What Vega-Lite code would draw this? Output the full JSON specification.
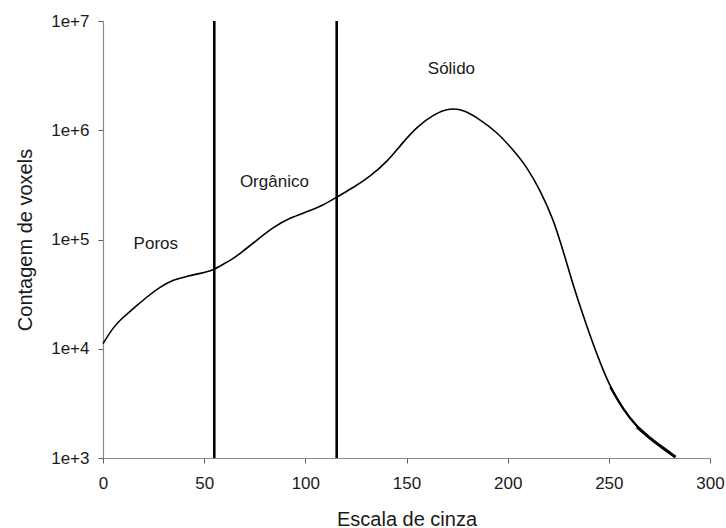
{
  "$schema": "https://vega.github.io/schema/vega-lite/v6.json",
  "width": 607,
  "height": 437,
  "autosize": {"type": "none"},
  "padding": {"left": 103, "top": 21, "right": 16, "bottom": 70},
  "background": "white",
  "config": {
    "view": {"stroke": null},
    "font": "Liberation Sans",
    "axis": {
      "grid": false,
      "domainColor": "#8c8c8c",
      "domainWidth": 1.2,
      "tickColor": "#5a5a5a",
      "tickSize": 5,
      "tickWidth": 1,
      "labelFlush": false,
      "labelBound": false,
      "labelOverlap": false,
      "labelFont": "Liberation Sans",
      "labelFontSize": 17,
      "labelColor": "#1a1a1a",
      "titleFont": "Liberation Sans",
      "titleFontSize": 20,
      "titleFontWeight": "normal",
      "titleColor": "#1a1a1a"
    }
  },
  "datasets": {
    "histogram": [
      {"gray": 0, "count": 11140},
      {"gray": 5.1, "count": 15810},
      {"gray": 10, "count": 19540},
      {"gray": 15, "count": 23280},
      {"gray": 21.6, "count": 29790},
      {"gray": 28.2, "count": 36730},
      {"gray": 34.8, "count": 42950},
      {"gray": 41.4, "count": 46030},
      {"gray": 48, "count": 48750},
      {"gray": 55, "count": 52970},
      {"gray": 57.9, "count": 57500},
      {"gray": 62.8, "count": 63800},
      {"gray": 67.7, "count": 74300},
      {"gray": 76, "count": 98400},
      {"gray": 84.2, "count": 130000},
      {"gray": 92.5, "count": 158500},
      {"gray": 100.7, "count": 178600},
      {"gray": 108.9, "count": 205600},
      {"gray": 115.5, "count": 244900},
      {"gray": 123.8, "count": 298500},
      {"gray": 132, "count": 378400},
      {"gray": 140.3, "count": 511700},
      {"gray": 147.7, "count": 755100},
      {"gray": 155.1, "count": 1071500},
      {"gray": 163.3, "count": 1400000},
      {"gray": 171.6, "count": 1600000},
      {"gray": 178.2, "count": 1540000},
      {"gray": 186.4, "count": 1250000},
      {"gray": 194.7, "count": 963900},
      {"gray": 202.9, "count": 654600},
      {"gray": 209.5, "count": 461300},
      {"gray": 216.1, "count": 281800},
      {"gray": 222.7, "count": 150000},
      {"gray": 226, "count": 94840},
      {"gray": 228.5, "count": 67600},
      {"gray": 232.6, "count": 36730},
      {"gray": 239.2, "count": 15810},
      {"gray": 245.8, "count": 7310},
      {"gray": 250.7, "count": 4467},
      {"gray": 257.3, "count": 2735},
      {"gray": 263.9, "count": 1923},
      {"gray": 270.5, "count": 1507},
      {"gray": 277.1, "count": 1219},
      {"gray": 282.9, "count": 1021}
    ],
    "thresholds": [
      {"gray": 55},
      {"gray": 115.5}
    ],
    "phases": [
      {"label": "Poros", "gray": 26.1, "count": 82600},
      {"label": "Orgânico", "gray": 84.7, "count": 302700},
      {"label": "Sólido", "gray": 172.2, "count": 3250000}
    ]
  },
  "encoding": {
    "x": {
      "field": "gray",
      "type": "quantitative",
      "scale": {"domain": [0, 300], "nice": false, "zero": false},
      "axis": {
        "title": "Escala de cinza",
        "values": [0, 50, 100, 150, 200, 250, 300],
        "labelPadding": 12,
        "titleY": 67,
        "titleBaseline": "alphabetic"
      }
    },
    "y": {
      "field": "count",
      "type": "quantitative",
      "scale": {"type": "log", "domain": [1000, 10000000], "nice": false},
      "axis": {
        "title": "Contagem de voxels",
        "values": [1000, 10000, 100000, 1000000, 10000000],
        "labelExpr": "'1e+' + round(log(datum.value) / LN10)",
        "labelPadding": 9,
        "titleX": -72,
        "titleY": 218.5,
        "titleAngle": -90,
        "titleAlign": "center",
        "titleBaseline": "alphabetic"
      }
    }
  },
  "layer": [
    {
      "data": {"name": "histogram"},
      "mark": {"type": "line", "color": "black", "strokeWidth": 1.6, "interpolate": "basis"}
    },
    {
      "data": {"name": "histogram"},
      "transform": [{"filter": "datum.gray >= 250"}],
      "mark": {"type": "line", "color": "black", "strokeWidth": 2.2, "interpolate": "basis"}
    },
    {
      "data": {"name": "histogram"},
      "transform": [{"filter": "datum.gray >= 263"}],
      "mark": {"type": "line", "color": "black", "strokeWidth": 3, "interpolate": "basis"}
    },
    {
      "data": {"name": "thresholds"},
      "mark": {"type": "rule", "color": "black", "strokeWidth": 2.6},
      "encoding": {"x": {"field": "gray", "type": "quantitative"}, "y": null}
    },
    {
      "data": {"name": "phases"},
      "mark": {"type": "text", "fontSize": 17, "color": "#1a1a1a", "baseline": "alphabetic", "align": "center", "font": "Liberation Sans"},
      "encoding": {"text": {"field": "label", "type": "nominal"}}
    }
  ]
}
